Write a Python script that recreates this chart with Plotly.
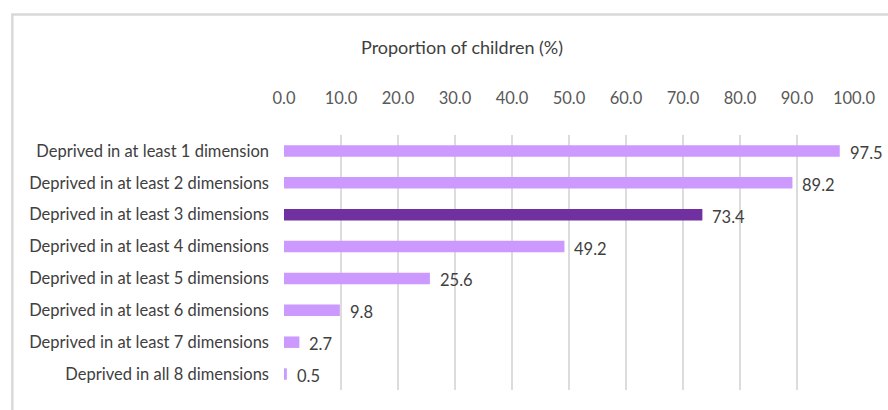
import plotly.graph_objects as go

categories = [
    "Deprived in at least 1 dimension",
    "Deprived in at least 2 dimensions",
    "Deprived in at least 3 dimensions",
    "Deprived in at least 4 dimensions",
    "Deprived in at least 5 dimensions",
    "Deprived in at least 6 dimensions",
    "Deprived in at least 7 dimensions",
    "Deprived in all 8 dimensions",
]
values = [97.5, 89.2, 73.4, 49.2, 25.6, 9.8, 2.7, 0.5]
highlight = "Deprived in at least 3 dimensions"
tick_vals = [0, 10, 20, 30, 40, 50, 60, 70, 80, 90, 100]
axis_title = "Proportion of children (%)"

LIGHT = "#CC99FF"
DARK = "#7030A0"
colors = [DARK if c == highlight else LIGHT for c in categories]

FONT = "Lato"

fig = go.Figure(go.Bar(
    x=values,
    y=categories,
    orientation="h",
    marker=dict(color=colors, line=dict(width=0)),
    width=0.36,
    cliponaxis=False,
))

for c, v in zip(categories, values):
    fig.add_annotation(
        x=v, y=c, xref="x", yref="y",
        text=f"{v:.1f}", showarrow=False,
        xanchor="left", yanchor="middle", xshift=8, yshift=-2,
        font=dict(family=FONT, size=16.5, color="#404040"),
    )

W, H = 888, 410
L, R, T, B = 284, 26, 135, 20
pw = W - L - R
ph = H - T - B

def px_to_paper_x(px):
    return (px - L) / pw

def px_to_paper_y(py):
    return (H - B - py) / ph

fig.add_shape(
    type="rect", xref="paper", yref="paper",
    x0=px_to_paper_x(8.5), x1=px_to_paper_x(900),
    y0=px_to_paper_y(430), y1=px_to_paper_y(14.5),
    line=dict(color="#D9D9D9", width=2.5),
    fillcolor="rgba(0,0,0,0)", layer="below",
)

fig.add_annotation(
    text=axis_title, xref="paper", yref="paper",
    x=px_to_paper_x(464), y=px_to_paper_y(47),
    xanchor="center", yanchor="middle", showarrow=False,
    font=dict(family=FONT, size=18, color="#404040"),
)

fig.update_layout(
    width=W, height=H,
    margin=dict(l=L, r=R, t=T, b=B),
    paper_bgcolor="white", plot_bgcolor="white",
    showlegend=False,
    font=dict(family=FONT, size=16, color="#595959"),
    xaxis=dict(
        side="top",
        range=[0, 100],
        tickvals=tick_vals,
        tickformat=".1f",
        showgrid=True, gridcolor="#DCDCDC", gridwidth=2,
        zeroline=False, showline=False,
        ticks="", ticklabelstandoff=27,
        tickfont=dict(family=FONT, size=16.5, color="#595959"),
        fixedrange=True,
    ),
    yaxis=dict(
        autorange="reversed",
        showgrid=False, zeroline=False, showline=False,
        ticks="", ticklabelstandoff=14,
        tickfont=dict(family=FONT, size=16.5, color="#404040"),
    ),
)

fig.write_html("out.html")
